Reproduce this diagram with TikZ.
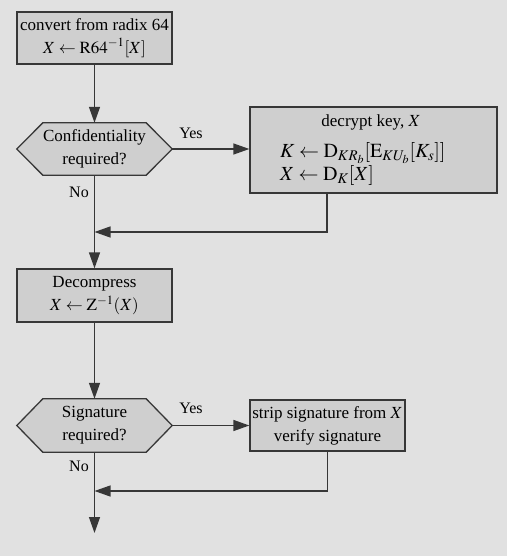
\documentclass[tikz,border=0pt]{standalone}
\usepackage{mathptmx}
\usepackage{fontspec}
\setmainfont{Liberation Serif}
\usetikzlibrary{arrows.meta}
\pgfdeclarelayer{bglayer}
\pgfdeclarelayer{hexlayer}
\pgfsetlayers{bglayer,hexlayer,main}
\definecolor{pagebg}{RGB}{225,225,225}
\definecolor{boxfill}{RGB}{207,207,207}
\definecolor{edgecol}{RGB}{55,55,55}
\tikzset{
  txt/.style={font=\fontsize{17}{23}\selectfont},
  box/.style={txt, draw=edgecol, fill=boxfill, line width=1.3pt, inner sep=0pt, align=center},
  hexbox/.style={txt, inner sep=0pt, minimum width=155pt, minimum height=52pt, align=center},
  hexshape/.style={draw=edgecol, fill=boxfill, line width=1.3pt},
  conn/.style={draw=edgecol, line width=1.3pt},
  arr/.style={conn, -{Triangle[length=16pt,width=11pt]}},
  lbl/.style={font=\fontsize{16}{18}\selectfont, inner sep=0pt}
}
\newcommand\hexdraw[1]{%
  \begin{pgfonlayer}{hexlayer}
  \draw[hexshape] (#1.west) -- ([xshift=26pt]#1.north west) -- ([xshift=-26pt]#1.north east)
    -- (#1.east) -- ([xshift=-26pt]#1.south east) -- ([xshift=26pt]#1.south west) -- cycle;
  \end{pgfonlayer}}
\begin{document}
\begin{tikzpicture}[x=1pt,y=-1pt]
\begin{pgfonlayer}{bglayer}
\fill[pagebg] (0,0) rectangle (507,556);
\end{pgfonlayer}
\useasboundingbox (0,0) rectangle (507,556);

\node[box, minimum width=155pt, minimum height=52pt] (b1) at (94.5,38)
  {convert from radix 64\\ $X \leftarrow \mathrm{R64}^{-1}[X]$};
\node[hexbox] (h1) at (94.5,149) {Confidentiality\\ required?};
\hexdraw{h1}
\node[box, minimum width=247pt, minimum height=86pt] (dec) at (373.5,150) {};
\node[txt, inner sep=0pt] (dect) at (371,122) {decrypt key, $X$};
\node[inner sep=0pt, anchor=west, align=left, font=\fontsize{20}{23.5}\selectfont] (decm) at (280,164)
  {$K \leftarrow \mathrm{D}_{KR_b}[\mathrm{E}_{KU_b}[K_s]]$\\ $X \leftarrow \mathrm{D}_K[X]$};
\node[box, minimum width=155pt, minimum height=53pt] (b2) at (94.5,295.5)
  {Decompress\\ $X \leftarrow \mathrm{Z}^{-1}(X)$};
\node[hexbox, minimum height=53pt] (h2) at (94.5,425.5) {Signature\\ required?};
\hexdraw{h2}
\node[box, minimum width=155pt, minimum height=51pt] (strip) at (327.5,425.5)
  {strip signature from $X$\\ verify signature};

\coordinate (c1) at (327,232);
\coordinate (c2) at (327,491);
\coordinate (endp) at (94.5,533);

\draw[arr] (b1.south) -- (h1.north);
\draw[arr] (h1.east) -- (h1.east -| dec.west);
\draw[arr] (h1.south) -- (b2.north);
\draw[arr] (c1 |- dec.south) -- (c1) -- (c1 -| h1.south);
\draw[arr] (b2.south) -- (h2.north);
\draw[arr] (h2.east) -- (strip.west);
\draw[arr] (h2.south) -- (endp);
\draw[arr] (strip.south) -- (strip.south |- c2) -- (c2 -| h2.south);

\node[lbl] (y1) at (191,133) {Yes};
\node[lbl] (n1) at (79,192) {No};
\node[lbl] (y2) at (191,408) {Yes};
\node[lbl] (n2) at (79,466) {No};
\end{tikzpicture}
\end{document}
